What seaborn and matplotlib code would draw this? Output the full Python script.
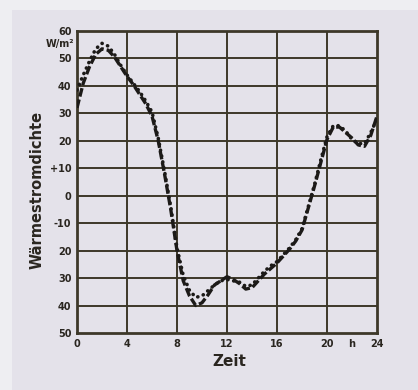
import numpy as np
import pandas as pd
import matplotlib.pyplot as plt
import matplotlib.patches as mpatches
import seaborn as sns

# Data (Zeit in h, Wärmestromdichte in W/m²)
hours = [0, 0.5, 1, 1.5, 2, 2.5, 3, 3.5, 4, 4.5, 5, 5.5, 6, 6.5, 7, 7.5, 8, 8.5,
         9, 9.5, 10, 10.5, 11, 11.5, 12, 12.5, 13, 13.5, 14, 14.5, 15, 15.5, 16,
         16.5, 17, 17.5, 18, 18.5, 19, 19.5, 20, 20.5, 21, 21.5, 22, 22.5, 23,
         23.5, 24]
dashed_vals = [32, 41, 47, 51.5, 53.5, 53, 50.5, 47, 43.5, 40.5, 37, 33.5, 29, 20, 8,
               -5, -20, -31, -36.5, -40, -39, -36, -32.5, -31, -29.5, -30.5, -32,
               -34, -33.5, -31, -28.5, -26.5, -24.5, -22, -19.5, -16.5, -12.5,
               -4.5, 3.5, 12, 20.5, 25, 25, 23, 21, 18.5, 18, 22, 29]
dotted_vals = [38.5, 44, 49, 53.5, 55.5, 54.5, 51.5, 47.5, 44, 41, 38, 34.5, 30.5,
               21, 9, -4, -19, -29, -34.5, -37, -36.5, -34.5, -32.5, -31, -30.5,
               -31, -31.5, -33, -32.5, -30, -27.5, -25.5, -24, -21.5, -19, -16,
               -12, -4, 4, 13, 21.5, 25.5, 25.5, 23.5, 20.5, 19, 19, 23, 28]

x_ticks = [0, 4, 8, 12, 16, 20, 22, 24]
x_labels = ['0', '4', '8', '12', '16', '20', 'h', '24']
y_ticks = [60, 50, 40, 30, 20, 10, 0, -10, -20, -30, -40, -50]
y_labels = ['60', '50', '40', '30', '20', '+10', '0', '-10', '20', '30', '40', '50']

df = pd.DataFrame({'Zeit': hours, 'gestrichelt': dashed_vals, 'punktiert': dotted_vals})

panel = '#e4e2ea'
ink = '#2a2620'
gridc = '#3d3829'

sns.set_style('white', {'axes.facecolor': panel})
plt.rcParams['font.family'] = ['DejaVu Sans']

fig = plt.figure(figsize=(4.18, 3.90), dpi=100)
fig.patch.set_facecolor('#eeeef2')
fig.patches.append(mpatches.Rectangle((12 / 418, 0), 1, 1 - 10 / 390,
                                      transform=fig.transFigure,
                                      facecolor=panel, edgecolor='none', zorder=-10))

ax = fig.add_axes([77 / 418, 1 - 333 / 390, 300 / 418, 302 / 390])

sns.lineplot(data=df, x='Zeit', y='punktiert', ax=ax, color='#1c1a18',
             linewidth=2.6, linestyle=(0, (0.05, 1.6)),
             solid_capstyle='round', dash_capstyle='round', zorder=3)
sns.lineplot(data=df, x='Zeit', y='gestrichelt', ax=ax, color='#1c1a18',
             linewidth=2.4, linestyle=(0, (2.6, 0.9)), zorder=4)

ax.set_xlim(0, 24)
ax.set_ylim(-50, 60)
ax.set_xticks(x_ticks)
ax.set_xticklabels(x_labels, fontsize=7, fontweight='bold', color=ink)
ax.set_yticks(y_ticks)
ax.set_yticklabels(y_labels, fontsize=7, fontweight='bold', color=ink)
ax.tick_params(length=0, pad=4)

for v in [4, 8, 12, 16, 20]:
    ax.axvline(v, color=gridc, linewidth=1.4, zorder=1)
for v in range(-40, 60, 10):
    ax.axhline(v, color=gridc, linewidth=1.4, zorder=1)
for s in ax.spines.values():
    s.set_color(gridc)
    s.set_linewidth(2)

ax.set_xlabel('')
ax.set_ylabel('')
ax.text(-0.25, 55.3, 'W/m²', ha='right', va='center', fontsize=7,
        fontweight='bold', color=ink, transform=ax.transData, clip_on=False)
fig.text(229 / 418, 1 - 362 / 390, 'Zeit', ha='center', va='center',
         fontsize=11, fontweight='bold', color=ink)
fig.text(37 / 418, 1 - 190 / 390, 'Wärmestromdichte', ha='center', va='center',
         rotation=90, fontsize=10.5, fontweight='bold', color=ink)

fig.savefig('out.png', dpi=100, facecolor=fig.get_facecolor())
